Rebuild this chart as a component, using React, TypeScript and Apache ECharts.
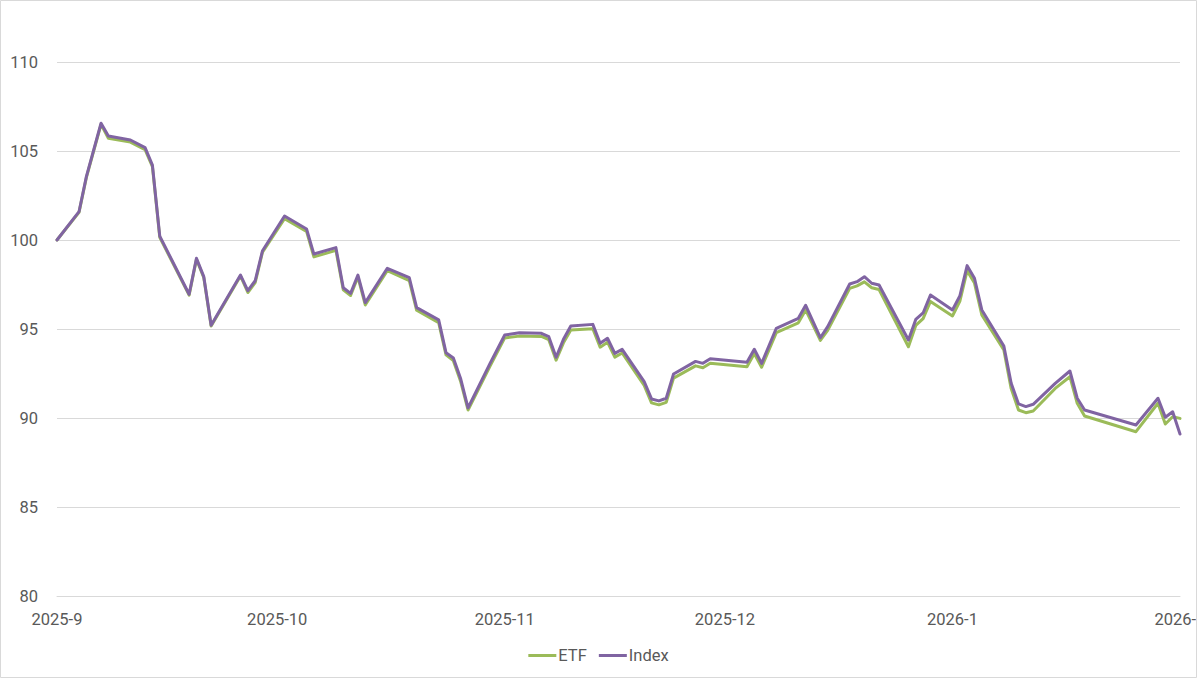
import React, { useEffect, useRef } from "react";
import * as echarts from "echarts";

const dates: string[] = [
  "2025-09-01", "2025-09-04", "2025-09-05", "2025-09-07", "2025-09-08", "2025-09-11", "2025-09-13", "2025-09-14",
  "2025-09-15", "2025-09-19", "2025-09-20", "2025-09-21", "2025-09-22", "2025-09-26", "2025-09-27", "2025-09-28",
  "2025-09-29", "2025-10-02", "2025-10-05", "2025-10-06", "2025-10-09", "2025-10-10", "2025-10-11", "2025-10-12",
  "2025-10-13", "2025-10-16", "2025-10-19", "2025-10-20", "2025-10-23", "2025-10-24", "2025-10-25", "2025-10-26",
  "2025-10-27", "2025-10-30", "2025-11-01", "2025-11-03", "2025-11-06", "2025-11-07", "2025-11-08", "2025-11-09",
  "2025-11-10", "2025-11-13", "2025-11-14", "2025-11-15", "2025-11-16", "2025-11-17", "2025-11-20", "2025-11-21",
  "2025-11-22", "2025-11-23", "2025-11-24", "2025-11-27", "2025-11-28", "2025-11-29", "2025-12-04", "2025-12-05",
  "2025-12-06", "2025-12-08", "2025-12-11", "2025-12-12", "2025-12-14", "2025-12-15", "2025-12-18", "2025-12-19",
  "2025-12-20", "2025-12-21", "2025-12-22", "2025-12-26", "2025-12-27", "2025-12-28", "2025-12-29", "2026-01-01",
  "2026-01-02", "2026-01-03", "2026-01-04", "2026-01-05", "2026-01-08", "2026-01-09", "2026-01-10", "2026-01-11",
  "2026-01-12", "2026-01-15", "2026-01-17", "2026-01-18", "2026-01-19", "2026-01-26", "2026-01-29", "2026-01-30",
  "2026-01-31", "2026-02-01",
];

const indexValues: number[] = [
  100.0, 101.59, 103.56, 106.56, 105.84, 105.62, 105.19, 104.21,
  100.22, 96.95, 98.97, 97.94, 95.21, 98.03, 97.15, 97.71,
  99.4, 101.35, 100.62, 99.21, 99.57, 97.32, 97.0, 98.03,
  96.48, 98.41, 97.88, 96.2, 95.51, 93.67, 93.37, 92.2,
  90.57, 93.07, 94.66, 94.79, 94.76, 94.57, 93.41, 94.42,
  95.17, 95.26, 94.2, 94.48, 93.63, 93.86, 92.04, 91.07,
  90.96, 91.11, 92.47, 93.18, 93.07, 93.33, 93.13, 93.86,
  93.07, 95.04, 95.6, 96.33, 94.51, 95.13, 97.53, 97.66,
  97.94, 97.57, 97.47, 94.38, 95.54, 95.9, 96.91, 96.07,
  96.85, 98.56, 97.85, 96.07, 94.04, 91.95, 90.79, 90.64,
  90.77, 91.95, 92.64, 91.11, 90.45, 89.61, 91.11, 90.04,
  90.35, 89.1,
];

const etfValues: number[] = [
  100.0, 101.55, 103.5, 106.5, 105.72, 105.5, 105.08, 104.12,
  100.15, 96.9, 98.92, 97.88, 95.17, 97.98, 97.05, 97.6,
  99.32, 101.2, 100.48, 99.05, 99.42, 97.2, 96.88, 97.92,
  96.35, 98.28, 97.72, 96.05, 95.35, 93.55, 93.22, 92.05,
  90.45, 92.92, 94.5, 94.6, 94.58, 94.4, 93.25, 94.22,
  94.95, 95.02, 93.98, 94.26, 93.42, 93.65, 91.83, 90.85,
  90.74, 90.88, 92.24, 92.93, 92.82, 93.08, 92.88, 93.62,
  92.85, 94.8, 95.35, 96.07, 94.36, 94.92, 97.28, 97.42,
  97.65, 97.32, 97.22, 94.0, 95.2, 95.58, 96.55, 95.73,
  96.55, 98.28, 97.58, 95.79, 93.82, 91.65, 90.45, 90.3,
  90.39, 91.66, 92.32, 90.83, 90.11, 89.23, 90.83, 89.66,
  90.07, 89.98,
];

const monthTicks: string[] = ["2025-09-01", "2025-10-01", "2025-11-01", "2025-12-01", "2026-01-01", "2026-02-01"];
const yTicks = { min: 80, max: 110, interval: 5 };
const seriesNames = ["ETF", "Index"];

function ts(s: string): number {
  const [y, m, d] = s.split("-").map(Number);
  return new Date(y, m - 1, d).getTime();
}

export default function App() {
  const ref = useRef<HTMLDivElement>(null);
  useEffect(() => {
    if (!ref.current) return;
    const chart = echarts.init(ref.current, null, { renderer: "svg" });
    const font = "Roboto";
    const txt = "#595959";
    chart.setOption({
      animation: false,
      backgroundColor: "#ffffff",
      textStyle: { fontFamily: font },
      grid: { left: 57, right: 17, top: 62, bottom: 82, containLabel: false, outerBoundsMode: "none" },
      xAxis: {
        type: "value",
        min: ts(monthTicks[0]),
        max: ts(monthTicks[monthTicks.length - 1]),
        axisLine: { show: true, lineStyle: { color: "#d9d9d9", width: 1 } },
        axisTick: { show: false },
        splitLine: { show: false },
        axisLabel: {
          customValues: monthTicks.map(ts),
          color: txt,
          fontSize: 16.5,
          fontFamily: font,
          margin: 15,
          hideOverlap: false,
          showMaxLabel: true,
          showMinLabel: true,
          formatter: (v: number) => {
            const d = new Date(v);
            return `${d.getFullYear()}-${d.getMonth() + 1}`;
          },
        },
      },
      yAxis: {
        type: "value",
        min: yTicks.min,
        max: yTicks.max,
        interval: yTicks.interval,
        axisLine: { show: false },
        axisTick: { show: false },
        splitLine: { show: true, lineStyle: { color: "#d9d9d9", width: 1 } },
        axisLabel: { color: txt, fontSize: 16.5, fontFamily: font, margin: 19 },
      },
      legend: {
        data: seriesNames,
        left: "center",
        top: 642,
        icon: "rect",
        itemWidth: 28,
        itemHeight: 3,
        itemGap: 12,
        textStyle: { color: txt, fontSize: 16.5, fontFamily: font, padding: [0, 0, 0, -3] },
      },
      graphic: [
        {
          type: "rect",
          shape: { x: 0.5, y: 0.5, width: 1196, height: 677 },
          style: { fill: "none", stroke: "#d9d9d9", lineWidth: 1 },
          silent: true,
          z: 100,
        },
      ],
      series: [
        {
          name: seriesNames[0],
          type: "line",
          data: dates.map((d, i) => [ts(d), etfValues[i]]),
          showSymbol: false,
          symbol: "none",
          color: "#9bbb59",
          lineStyle: { color: "#9bbb59", width: 3, join: "round", cap: "round" },
          z: 2,
        },
        {
          name: seriesNames[1],
          type: "line",
          data: dates.map((d, i) => [ts(d), indexValues[i]]),
          showSymbol: false,
          symbol: "none",
          color: "#8064a2",
          lineStyle: { color: "#8064a2", width: 3, join: "round", cap: "round" },
          z: 3,
        },
      ],
    });
    return () => chart.dispose();
  }, []);
  return (
    <div
      ref={ref}
      style={{ position: "absolute", left: 0, top: 0, width: 1197, height: 678 }}
    />
  );
}
